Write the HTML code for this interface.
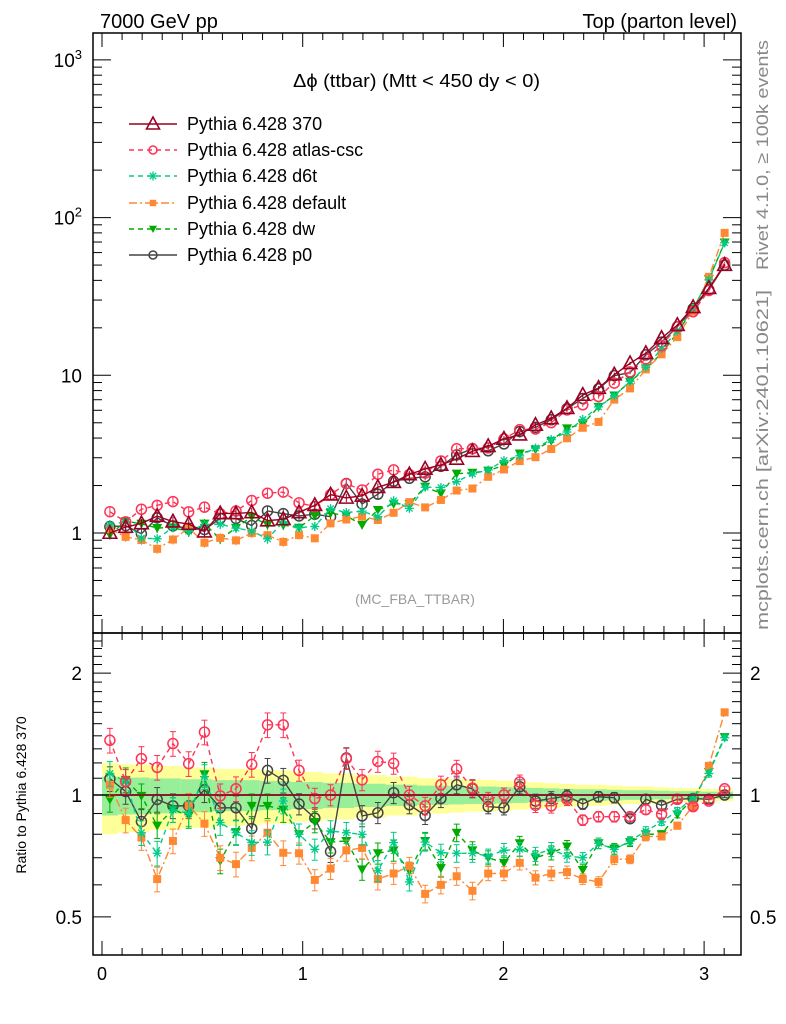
<!DOCTYPE html>
<html><head><meta charset="utf-8"><style>
html,body{margin:0;padding:0;background:#fff;}
svg{display:block;font-family:"Liberation Sans",sans-serif;}
</style></head><body>
<svg id="c" width="786" height="1024" viewBox="0 0 786 1024" xmlns="http://www.w3.org/2000/svg">
<text x="100" y="28" font-size="20">7000 GeV pp</text>
<text x="737" y="28" font-size="20" text-anchor="end">Top (parton level)</text>
<text x="293" y="87" font-size="18" textLength="247" lengthAdjust="spacingAndGlyphs">Δϕ (ttbar) (Mtt &lt; 450 dy &lt; 0)</text>
<text x="415" y="604" font-size="14" fill="#999" text-anchor="middle">(MC_FBA_TTBAR)</text>
<text transform="translate(768,270) rotate(-90)" font-size="17" fill="#888" textLength="230" lengthAdjust="spacingAndGlyphs">Rivet 4.1.0, ≥ 100k events</text>
<text transform="translate(768,630) rotate(-90)" font-size="17" fill="#888" textLength="340" lengthAdjust="spacingAndGlyphs">mcplots.cern.ch [arXiv:2401.10621]</text>
<text transform="translate(26,795) rotate(-90)" font-size="14" text-anchor="middle">Ratio to Pythia 6.428 370</text>
</svg>
<script>
const bins = 40;
const refVals = [1.0,1.09,1.15,1.28,1.18,1.14,1.02,1.33,1.33,1.35,1.2,1.22,1.35,1.5,1.75,1.67,1.72,1.95,2.1,2.35,2.55,2.7,2.95,3.3,3.55,3.95,4.2,4.84,5.33,6.18,7.5,8.3,10.1,11.9,13.8,17.2,20.8,27.0,35.7,50];
const ratioAtlas = [1.365,1.08,1.23,1.17,1.34,1.195,1.43,0.995,1.036,1.19,1.49,1.49,1.15,0.98,1.0,1.23,1.09,1.21,1.197,1.0,0.94,1.06,1.16,1.04,0.976,1.0,1.077,0.943,0.94,0.976,0.867,0.884,0.884,0.884,0.92,0.896,0.976,0.936,0.966,1.036];
const ratioD6t = [1.13,1.08,0.807,0.718,0.92,0.9,1.11,0.855,0.807,0.763,0.765,0.966,0.8,0.734,0.815,0.807,0.8,0.65,0.763,0.61,0.765,0.72,0.718,0.718,0.707,0.73,0.734,0.714,0.734,0.707,0.7,0.76,0.734,0.77,0.815,0.858,0.913,0.985,1.13,1.385];
const ratioDefault = [1.06,0.867,0.785,0.62,0.77,0.943,0.85,0.7,0.675,0.74,0.807,0.72,0.718,0.617,0.658,0.73,0.74,0.62,0.64,0.668,0.57,0.6,0.63,0.58,0.64,0.64,0.68,0.625,0.64,0.645,0.62,0.61,0.694,0.694,0.79,0.79,0.84,0.94,1.18,1.6];
const ratioDw = [0.975,1.09,0.995,0.84,0.92,0.89,1.125,0.687,0.81,0.94,0.94,0.92,0.8,0.858,0.765,0.77,0.655,0.718,0.73,0.65,0.77,0.66,0.807,0.73,0.7,0.68,0.76,0.7,0.72,0.746,0.653,0.76,0.737,0.765,0.8,0.8,0.896,0.976,1.14,1.39];
const ratioP0 = [1.097,1.02,0.86,0.975,0.94,0.94,1.03,0.93,0.93,0.826,1.15,1.087,0.95,0.877,0.725,1.234,0.888,0.904,1.013,0.946,0.89,0.98,1.06,1.036,0.936,0.93,1.048,0.966,0.98,0.995,0.95,0.99,0.985,0.874,0.976,0.943,0.976,0.98,0.976,1.0];
const bandYellow = [0.2,0.19,0.19,0.18,0.18,0.17,0.17,0.16,0.16,0.16,0.15,0.15,0.14,0.14,0.13,0.13,0.12,0.12,0.11,0.11,0.1,0.1,0.095,0.09,0.09,0.085,0.08,0.075,0.07,0.065,0.06,0.06,0.055,0.05,0.05,0.045,0.04,0.04,0.035,0.035];
const relErr = [0.07,0.07,0.07,0.07,0.07,0.07,0.07,0.07,0.07,0.07,0.07,0.07,0.06,0.06,0.06,0.06,0.06,0.06,0.06,0.05,0.05,0.05,0.05,0.05,0.04,0.04,0.04,0.04,0.04,0.035,0.03,0.03,0.03,0.025,0.025,0.02,0.02,0.02,0.02,0.015];
const xTicks = [0,1,2,3];

const NS="http://www.w3.org/2000/svg";
const svg=document.getElementById('c');
function mk(tag,attrs,parent){const e=document.createElementNS(NS,tag);for(const k in attrs)e.setAttribute(k,attrs[k]);(parent||svg).appendChild(e);return e;}
const L=93,R=741,T1=33,B1=633,T2=633,B2=955;
const xs=v=>102+v*200.7;
const y1=v=>533-Math.log10(v)*157.7;
const y2=v=>795-Math.log10(v)*405;
const bw=Math.PI/bins;
const cx=k=>(k+0.5)*bw;

const gB=mk('g',{});


for(let k=0;k<bins;k++){
  const x0=xs(k*bw),x1=xs((k+1)*bw),h=bandYellow[k];
  const ry=mk('rect',{x:x0,y:y2(1+h),width:x1-x0+0.5,height:y2(1-h)-y2(1+h),fill:'#ffff99'},gB);
  
  
  const g=h*0.55;
  const rg=mk('rect',{x:x0,y:y2(1+g),width:x1-x0+0.5,height:y2(1-g)-y2(1+g),fill:'#99ee99'},gB);
  
  
}
const ref1=mk('line',{x1:L,x2:R,y1:y2(1),y2:y2(1),stroke:'#000','stroke-width':1.5});



const f1=mk('rect',{x:L,y:T1,width:R-L,height:B1-T1,fill:'none',stroke:'#000','stroke-width':1.5});


const f2=mk('rect',{x:L,y:T2,width:R-L,height:B2-T2,fill:'none',stroke:'#000','stroke-width':1.5});



const gx=mk('g',{stroke:'#000','stroke-width':1});


for(let v=0;v<=3.15;v+=0.1){
  const major=Math.abs(v-Math.round(v))<1e-6, x=xs(v), l=major?14:7;
  mk('line',{x1:x,x2:x,y1:T1,y2:T1+l},gx);mk('line',{x1:x,x2:x,y1:B1,y2:B1-l},gx);
  mk('line',{x1:x,x2:x,y1:T2,y2:T2+l},gx);mk('line',{x1:x,x2:x,y1:B2,y2:B2-l},gx);
}
xTicks.forEach(v=>{const t=mk('text',{x:xs(v),y:980,'font-size':18,'text-anchor':'middle'});t.textContent=v;

});

const gy=mk('g',{stroke:'#000','stroke-width':1});


for(let d=-1;d<=3;d++)for(let m=1;m<10;m++){
  const v=m*Math.pow(10,d),y=y1(v);if(y<T1||y>B1)continue;const l=m==1?18:9;
  mk('line',{x1:L,x2:L+l,y1:y,y2:y},gy);mk('line',{x1:R,x2:R-l,y1:y,y2:y},gy);
}
[['1',1],['10',10]].forEach(([s,v])=>{const t=mk('text',{x:82,y:y1(v)+7,'font-size':19,'text-anchor':'end'});t.textContent=s;

});
[['2',100],['3',1000]].forEach(([p,v])=>{const t=mk('text',{x:82,y:y1(v)+7,'font-size':19,'text-anchor':'end'});t.innerHTML='10<tspan dy="-8" font-size="13">'+p+'</tspan>';

});

const gr=mk('g',{stroke:'#000','stroke-width':1});


for(let v=0.5;v<=2.5;v+=0.1){const y=y2(v);if(y<T2||y>B2)continue;const maj=[0.5,1,2].some(a=>Math.abs(a-v)<1e-6);const l=maj?18:9;
mk('line',{x1:L,x2:L+l,y1:y,y2:y},gr);mk('line',{x1:R,x2:R-l,y1:y,y2:y},gr);}
[['2',2],['1',1],['0.5',0.5]].forEach(([s,v])=>{
 const t=mk('text',{x:82,y:y2(v)+7,'font-size':19,'text-anchor':'end'});t.textContent=s;
 
 
 const t2=mk('text',{x:750,y:y2(v)+7,'font-size':19});t2.textContent=s;
 
 });

const series=[
 {name:'370',ratio:null,color:'#990022',dash:'',marker:'tri'},
 {name:'atlas-csc',ratio:ratioAtlas,color:'#ff3355',dash:'5,4',marker:'circ'},
 {name:'d6t',ratio:ratioD6t,color:'#00cc88',dash:'5,4',marker:'star'},
 {name:'default',ratio:ratioDefault,color:'#ff8833',dash:'8,3,2,3',marker:'sq'},
 {name:'dw',ratio:ratioDw,color:'#00aa00',dash:'5,4',marker:'dtri'},
 {name:'p0',ratio:ratioP0,color:'#444444',dash:'',marker:'circ'}];
function marker(g,type,x,y,c,s){
  s=s||1;
  if(type=='tri')mk('polygon',{points:`${x},${y-7*s} ${x-6.5*s},${y+5*s} ${x+6.5*s},${y+5*s}`,fill:'none',stroke:c,'stroke-width':1.6},g);
  else if(type=='circ')mk('circle',{cx:x,cy:y,r:5*s,fill:'none',stroke:c,'stroke-width':1.5},g);
  else if(type=='sq')mk('rect',{x:x-4*s,y:y-4*s,width:8*s,height:8*s,fill:c},g);
  else if(type=='dtri')mk('polygon',{points:`${x},${y+5*s} ${x-5*s},${y-4*s} ${x+5*s},${y-4*s}`,fill:c},g);
  else if(type=='star'){for(let a=0;a<4;a++){const t=a*Math.PI/4;mk('line',{x1:x-4.5*Math.cos(t),y1:y-4.5*Math.sin(t),x2:x+4.5*Math.cos(t),y2:y+4.5*Math.sin(t),stroke:c,'stroke-width':1.3},g);}}
}
series.slice().reverse().forEach(s=>{
  const g=mk('g',{});
  
  
  const main=refVals.map((v,k)=>v*(s.ratio?s.ratio[k]:1));
  const rat=refVals.map((v,k)=>s.ratio?s.ratio[k]:1);
  const p1=main.map((v,k)=>xs(cx(k))+','+y1(v)).join(' ');
  const p2=rat.map((v,k)=>xs(cx(k))+','+y2(v)).join(' ');
  const l1=mk('polyline',{points:p1,fill:'none',stroke:s.color,'stroke-width':1.4,'stroke-dasharray':s.dash},g);
  
  
  const l2=mk('polyline',{points:p2,fill:'none',stroke:s.color,'stroke-width':1.4,'stroke-dasharray':s.dash},g);
  
  
  main.forEach((v,k)=>{const x=xs(cx(k)),e=relErr[k];
    mk('line',{x1:x,x2:x,y1:y1(v*(1+e)),y2:y1(v*(1-e)),stroke:s.color,'stroke-width':1},g);
    marker(g,s.marker,x,y1(v),s.color,s.marker=='tri'?1.05:1);
    const r=rat[k];
    if(s.ratio){mk('line',{x1:x,x2:x,y1:y2(r*(1+e)),y2:y2(r*(1-e)),stroke:s.color,'stroke-width':1},g);
    mk('line',{x1:x-3,x2:x+3,y1:y2(r*(1+e)),y2:y2(r*(1+e)),stroke:s.color,'stroke-width':1},g);
    mk('line',{x1:x-3,x2:x+3,y1:y2(r*(1-e)),y2:y2(r*(1-e)),stroke:s.color,'stroke-width':1},g);
    marker(g,s.marker,x,y2(r),s.color,1);}
  });
});

const legY=[124,150,176,203,229,255];
series.forEach((s,i)=>{
  const g=mk('g',{});
  
  
  const y=legY[i];
  mk('line',{x1:129,x2:177,y1:y,y2:y,stroke:s.color,'stroke-width':1.4,'stroke-dasharray':s.dash},g);
  marker(g,s.marker,153,y,s.color,s.marker=='tri'?1.0:0.8);
  const t=mk('text',{x:187,y:y+6,'font-size':18},g);t.textContent='Pythia 6.428 '+s.name;
});
</script>
</body></html>
